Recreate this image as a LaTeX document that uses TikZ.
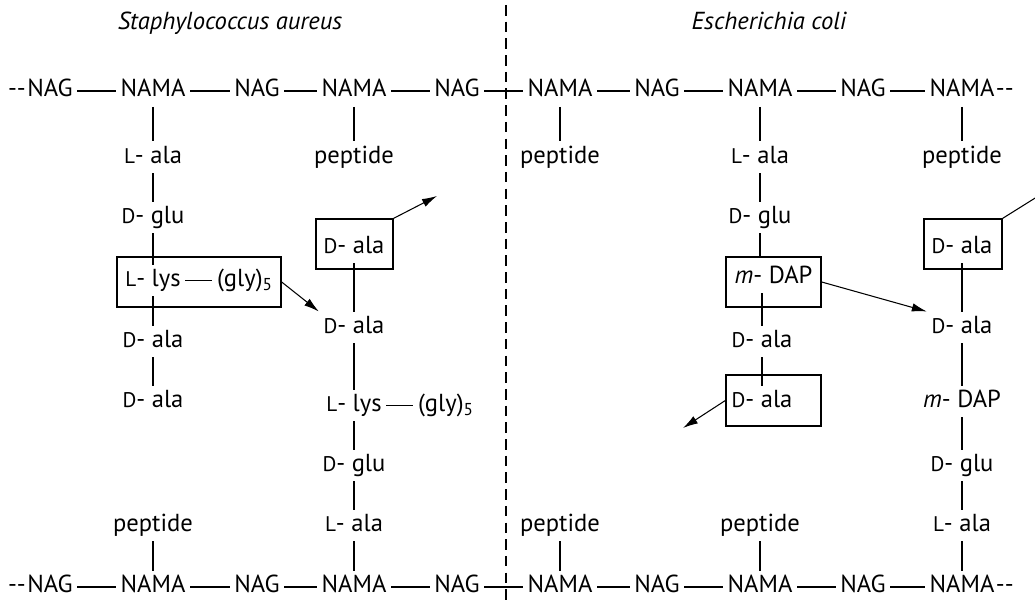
\documentclass[tikz,border=0pt]{standalone}
\usepackage{fontspec}
\setmainfont{PT Sans}
\usetikzlibrary{positioning, arrows.meta}

\newcommand{\smc}[1]{\scalebox{0.86}{#1}} % small capital L and D

\begin{document}
\begin{tikzpicture}[
    mol/.style={inner sep=2.5pt, text height=9.8pt, text depth=3pt, font=\fontsize{14}{16}\selectfont},
    bond/.style={line width=0.7pt},
    boxed/.style={draw, line width=0.75pt, minimum height=1cm},
    xlink/.style={-{Latex[length=3mm,width=1.7mm]}, line width=0.6pt}
]
    \useasboundingbox (0,0) rectangle (20.7,12.1); % page frame

    % species names
    \node[mol, font=\fontsize{14}{16}\selectfont\itshape] (staph) at (4.6,11.62) {Staphylococcus aureus};
    \node[mol, font=\fontsize{14}{16}\selectfont\itshape] (ecoli) at (15.38,11.62) {Escherichia coli};

    % dashed line between the two walls
    \draw[dash pattern=on 6pt off 3.5pt, line width=0.7pt] (10.12,12.0) -- (10.12,0);

    % upper glycan strand
    \node[mol] (t1) at (1.0,10.28) {NAG};
    \node[mol] (t2) at (3.06,10.28) {NAMA};
    \node[mol] (t3) at (5.14,10.28) {NAG};
    \node[mol] (t4) at (7.08,10.28) {NAMA};
    \node[mol] (t5) at (9.14,10.28) {NAG};
    \node[mol] (t6) at (11.2,10.28) {NAMA};
    \node[mol] (t7) at (13.14,10.28) {NAG};
    \node[mol] (t8) at (15.2,10.28) {NAMA};
    \node[mol] (t9) at (17.26,10.28) {NAG};
    \node[mol] (t10) at (19.24,10.28) {NAMA};
    \node[mol, inner xsep=0pt, left=-2pt of t1] (tl) {-{}-};
    \node[mol, inner xsep=0pt, right=-2pt of t10] (tr) {-{}-};
    \draw[bond] (t1) -- (t2) -- (t3) -- (t4) -- (t5) -- (t6) -- (t7) -- (t8) -- (t9) -- (t10);

    % lower glycan strand
    \node[mol] (b1) at (1.0,0.36) {NAG};
    \node[mol] (b2) at (3.06,0.36) {NAMA};
    \node[mol] (b3) at (5.14,0.36) {NAG};
    \node[mol] (b4) at (7.08,0.36) {NAMA};
    \node[mol] (b5) at (9.14,0.36) {NAG};
    \node[mol] (b6) at (11.2,0.36) {NAMA};
    \node[mol] (b7) at (13.14,0.36) {NAG};
    \node[mol] (b8) at (15.2,0.36) {NAMA};
    \node[mol] (b9) at (17.26,0.36) {NAG};
    \node[mol] (b10) at (19.24,0.36) {NAMA};
    \node[mol, inner xsep=0pt, left=-2pt of b1] (bl) {-{}-};
    \node[mol, inner xsep=0pt, right=-2pt of b10] (br) {-{}-};
    \draw[bond] (b1) -- (b2) -- (b3) -- (b4) -- (b5) -- (b6) -- (b7) -- (b8) -- (b9) -- (b10);

    % S. aureus, first stem peptide
    \node[mol] (lala2) at (3.06,8.95) {\smc{L}- ala};
    \node[mol] (dglu2) at (3.06,7.75) {\smc{D}- glu};
    \node[boxed, minimum width=3.28cm] (lysbox) at (3.98,6.46) {};
    \node[mol] (lys2) at (3.06,6.49) {\smc{L}- lys};
    \node[mol] (gly2) at (4.9,6.49) {(gly)\textsubscript{5}};
    \node[mol] (dala2) at (3.06,5.27) {\smc{D}- ala};
    \node[mol] (dalb2) at (3.06,4.07) {\smc{D}- ala};
    \draw[bond] (t2) -- (lala2) -- (dglu2) -- (lys2) -- (dala2) -- (dalb2);
    \draw[bond] (lys2) -- (gly2);

    % S. aureus, second stem peptide
    \node[mol] (pep4) at (7.08,8.95) {peptide};
    \draw[bond] (t4) -- (pep4);
    \node[boxed, minimum width=1.54cm] (dalabox4) at (7.09,7.22) {};
    \node[mol] (dalain4) at (7.08,7.15) {\smc{D}- ala};
    \node[mol] (dala4) at (7.08,5.55) {\smc{D}- ala};
    \node[mol] (lys4) at (7.08,3.99) {\smc{L}- lys};
    \node[mol] (gly4) at (8.92,3.99) {(gly)\textsubscript{5}};
    \node[mol] (dglu4) at (7.08,2.79) {\smc{D}- glu};
    \node[mol] (lala4) at (7.08,1.59) {\smc{L}- ala};
    \draw[bond] (dalain4) -- (dala4) -- (lys4) -- (dglu4) -- (lala4) -- (b4);
    \draw[bond] (lys4) -- (gly4);
    \node[mol] (pepb2) at (3.06,1.59) {peptide};
    \draw[bond] (pepb2) -- (b2);

    % S. aureus cross-link
    \draw[xlink] (lysbox.east) -- (dala4.north west);
    \coordinate (out4) at (8.74,8.18);
    \draw[xlink] (dalabox4.north east) -- (out4);

    % E. coli, plain peptides
    \node[mol] (pep6) at (11.2,8.95) {peptide};
    \draw[bond] (t6) -- (pep6);
    \node[mol] (pepb6) at (11.2,1.59) {peptide};
    \draw[bond] (pepb6) -- (b6);
    \node[mol] (pepb8) at (15.2,1.59) {peptide};
    \draw[bond] (pepb8) -- (b8);
    \node[mol] (pep10) at (19.24,8.95) {peptide};
    \draw[bond] (t10) -- (pep10);

    % E. coli, first stem peptide
    \node[mol] (lala8) at (15.2,8.95) {\smc{L}- ala};
    \node[mol] (dglu8) at (15.2,7.75) {\smc{D}- glu};
    \node[boxed, minimum width=1.9cm] (dapbox) at (15.47,6.46) {};
    \node[mol] (dap8) at (15.47,6.55) {\textit{m}- DAP};
    \node[mol] (dala8) at (15.24,5.27) {\smc{D}- ala};
    \node[boxed, minimum width=1.9cm, minimum height=1.02cm] (dalabox8) at (15.47,4.09) {};
    \node[mol] (dalain8) at (15.24,4.07) {\smc{D}- ala};
    \draw[bond] (t8) -- (lala8) -- (dglu8) -- (dglu8 |- dapbox.north);
    \draw[bond] (dala8 |- dap8.south) -- (dala8) -- (dalain8);

    % E. coli, second stem peptide
    \node[boxed, minimum width=1.56cm] (dalabox10) at (19.26,7.22) {};
    \node[mol] (dalain10) at (19.24,7.15) {\smc{D}- ala};
    \node[mol] (dala10) at (19.24,5.55) {\smc{D}- ala};
    \node[mol] (dap10) at (19.24,4.07) {\textit{m}- DAP};
    \node[mol] (dglu10) at (19.24,2.79) {\smc{D}- glu};
    \node[mol] (lala10) at (19.24,1.59) {\smc{L}- ala};
    \draw[bond] (dalain10) -- (dala10) -- (dap10) -- (dglu10) -- (lala10) -- (b10);

    % E. coli cross-link
    \draw[xlink] (dapbox.east) -- (dala10.north west);
    \coordinate (out8) at (13.66,3.54);
    \draw[xlink] (dalabox8.west) -- (out8);
    \coordinate (out10) at (21.2,8.45);
    \draw[xlink] (dalabox10.north east) -- (out10);
\end{tikzpicture}
\end{document}
